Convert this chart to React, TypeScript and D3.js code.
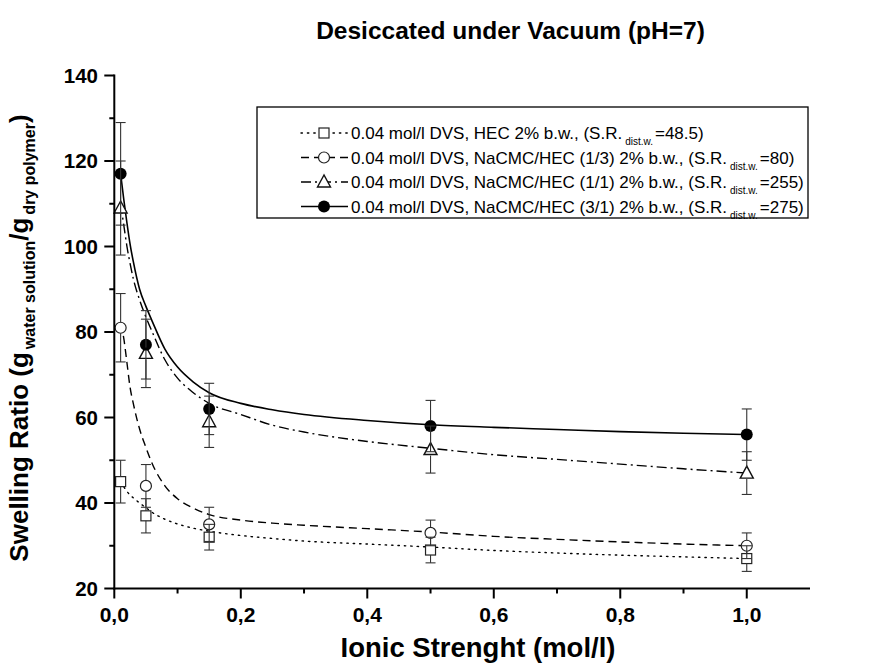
import React from "react";
import * as d3 from "d3";

// Measured swelling ratios at each ionic strength (mol/l)
const ionic = [0.01, 0.05, 0.15, 0.5, 1.0];

const hecVals = [45, 37, 32, 29, 27];
const hecErr = [5, 4, 3, 3, 3];
const cmc13Vals = [81, 44, 35, 33, 30];
const cmc13Err = [8, 5, 4, 3, 3];
const cmc11Vals = [109, 75, 59, 52.5, 47];
const cmc11Err = [11, 8, 6, 5.5, 5];
const cmc31Vals = [117, 77, 62, 58, 56];
const cmc31Err = [12, 8, 6, 6, 6];

// Fitted curves sampled on a common ionic-strength grid
const fitX = [0.01, 0.015, 0.02, 0.025, 0.03, 0.04, 0.05, 0.06, 0.08, 0.1, 0.125, 0.15, 0.2, 0.25, 0.3, 0.4, 0.5, 0.6, 0.7, 0.8, 0.9, 1.0];
const hecFit = [45, 43.8, 42.7, 41.9, 41.2, 40, 38.9, 37.8, 36.2, 35.1, 34.1, 33.4, 32.4, 31.7, 31.1, 30.4, 29.7, 28.9, 28.3, 27.8, 27.4, 27.0];
const cmc13Fit = [82, 78.5, 72.8, 67.0, 63.3, 57.3, 53, 49.2, 44, 41, 38.8, 37.3, 36, 35.3, 34.8, 34, 33.2, 32.2, 31.5, 30.9, 30.4, 30];
const cmc11Fit = [110, 105, 100, 96, 92.5, 87.5, 83.5, 80, 73.5, 69.2, 65.8, 63.3, 60.7, 58.2, 56.6, 54.4, 52.8, 51.3, 50.2, 49.1, 48, 47];
const cmc31Fit = [117, 111, 105.5, 100.5, 96.5, 90, 86, 82.5, 76, 71.8, 68.3, 65.8, 63.3, 61.8, 60.7, 59.3, 58.3, 57.7, 57.2, 56.7, 56.3, 56];

const yMajor = [20, 40, 60, 80, 100, 120, 140];
const yMinor = [30, 50, 70, 90, 110, 130];
const xMajor = [0, 0.2, 0.4, 0.6, 0.8, 1.0];
const xMinor = [0.1, 0.3, 0.5, 0.7, 0.9];

type Marker = "square" | "circle" | "triangle" | "dot";

const series: {
  vals: number[];
  err: number[];
  fit: number[];
  marker: Marker;
  dash: string;
  width: number;
  label: string;
  sr: string;
}[] = [
  { vals: hecVals, err: hecErr, fit: hecFit, marker: "square", dash: "1.4 5", width: 1.4, label: "0.04 mol/l DVS, HEC 2% b.w., (S.R.", sr: "=48.5)" },
  { vals: cmc13Vals, err: cmc13Err, fit: cmc13Fit, marker: "circle", dash: "8 5", width: 1.4, label: "0.04 mol/l DVS, NaCMC/HEC (1/3) 2% b.w., (S.R.", sr: "=80)" },
  { vals: cmc11Vals, err: cmc11Err, fit: cmc11Fit, marker: "triangle", dash: "10 4 2 4", width: 1.4, label: "0.04 mol/l DVS, NaCMC/HEC (1/1) 2% b.w., (S.R.", sr: "=255)" },
  { vals: cmc31Vals, err: cmc31Err, fit: cmc31Fit, marker: "dot", dash: "none", width: 1.6, label: "0.04 mol/l DVS, NaCMC/HEC (3/1) 2% b.w., (S.R.", sr: "=275)" },
];

const FONT = "'Liberation Sans', Arial, Helvetica, sans-serif";

const x = d3.scaleLinear().domain([0, 1.1]).range([114.3, 810]);
const y = d3.scaleLinear().domain([20, 140]).range([588.5, 75.5]);

const commaFmt = d3.formatLocale({ decimal: ",", thousands: ".", grouping: [3], currency: ["", ""] }).format(".1f");

function markerHalf(m: Marker) {
  return m === "square" ? 5 : m === "triangle" ? 6 : 5.5;
}

function MarkerShape({ m, cx, cy }: { m: Marker; cx: number; cy: number }) {
  if (m === "square") {
    return <rect x={cx - 5} y={cy - 5} width={10} height={10} fill="#fff" stroke="#222" strokeWidth={1.2} />;
  }
  if (m === "circle") {
    return <circle cx={cx} cy={cy} r={5.5} fill="#fff" stroke="#222" strokeWidth={1.2} />;
  }
  if (m === "triangle") {
    const p = `${cx},${cy - 7} ${cx - 6.5},${cy + 5} ${cx + 6.5},${cy + 5}`;
    return <polygon points={p} fill="#fff" stroke="#111" strokeWidth={1.4} />;
  }
  return <circle cx={cx} cy={cy} r={6} fill="#000" />;
}

export default function App() {
  const line = d3
    .line<number>()
    .x((_, i) => x(fitX[i]))
    .y((d) => y(d))
    .curve(d3.curveMonotoneX);

  const legendRows = [133, 157.5, 182, 206.5];

  return (
    <svg
      width={871}
      height={672}
      style={{ position: "absolute", left: 0, top: 0, background: "#fff" }}
      fontFamily={FONT}
    >
      <rect x={0} y={0} width={871} height={672} fill="#fff" />

      {/* title */}
      <text x={510.5} y={39} textAnchor="middle" fontSize={24.5} fontWeight="bold">
        Desiccated under Vacuum (pH=7)
      </text>

      {/* fitted curves */}
      {series.map((s, i) => (
        <path
          key={`fit${i}`}
          d={line(s.fit) || ""}
          fill="none"
          stroke="#000"
          strokeWidth={s.width}
          strokeDasharray={s.dash}
          strokeLinecap={s.marker === "square" ? "round" : "butt"}
        />
      ))}

      {/* markers */}
      {series.map((s, i) =>
        s.vals.map((v, j) => <MarkerShape key={`m${i}-${j}`} m={s.marker} cx={x(ionic[j])} cy={y(v)} />)
      )}

      {/* error bars */}
      {series.map((s, i) =>
        s.vals.map((v, j) => {
          const cx = x(ionic[j]);
          const cy = y(v);
          const top = y(v + s.err[j]);
          const bot = y(v - s.err[j]);
          const h = markerHalf(s.marker);
          return (
            <g key={`e${i}-${j}`} stroke="#333" strokeWidth={1.1}>
              <line x1={cx} x2={cx} y1={top} y2={cy - h} />
              <line x1={cx} x2={cx} y1={cy + h} y2={bot} />
              <line x1={cx - 5} x2={cx + 5} y1={top} y2={top} />
              <line x1={cx - 5} x2={cx + 5} y1={bot} y2={bot} />
            </g>
          );
        })
      )}

      {/* y axis */}
      <g stroke="#000" strokeWidth={2}>
        <line x1={x(0)} x2={x(0)} y1={y(140) - 1} y2={y(20) + 1} />
        {yMajor.map((t) => (
          <line key={`ym${t}`} x1={x(0) - 10} x2={x(0)} y1={y(t)} y2={y(t)} />
        ))}
        {yMinor.map((t) => (
          <line key={`yn${t}`} x1={x(0) - 5} x2={x(0)} y1={y(t)} y2={y(t)} />
        ))}
      </g>
      {yMajor.map((t) => (
        <text key={`yl${t}`} x={98} y={y(t)} dy="0.36em" textAnchor="end" fontSize={20.5} fontWeight="bold">
          {d3.format("d")(t)}
        </text>
      ))}

      {/* x axis */}
      <g stroke="#000" strokeWidth={2}>
        <line x1={x(0) - 1} x2={x(1.1)} y1={y(20)} y2={y(20)} />
        {xMajor.map((t) => (
          <line key={`xm${t}`} x1={x(t)} x2={x(t)} y1={y(20)} y2={y(20) + 10} />
        ))}
        {xMinor.map((t) => (
          <line key={`xn${t}`} x1={x(t)} x2={x(t)} y1={y(20)} y2={y(20) + 5} />
        ))}
      </g>
      {xMajor.map((t) => (
        <text key={`xl${t}`} x={x(t)} y={622} textAnchor="middle" fontSize={21} fontWeight="bold">
          {commaFmt(t)}
        </text>
      ))}

      {/* axis titles */}
      <text x={478} y={657} textAnchor="middle" fontSize={27.5} fontWeight="bold">
        Ionic Strenght (mol/l)
      </text>
      <text transform="translate(28,338) rotate(-90)" textAnchor="middle" fontSize={26} fontWeight="bold">
        <tspan>Swelling Ratio (g</tspan>
        <tspan fontSize={16} dy={7} dx={3}>water solution</tspan>
        <tspan dy={-7}>/g</tspan>
        <tspan fontSize={16} dy={7} dx={3}>dry polymer</tspan>
        <tspan dy={-7}>)</tspan>
      </text>

      {/* legend */}
      <rect x={257} y={107} width={551} height={111} fill="#fff" stroke="#000" strokeWidth={1.3} />
      {series.map((s, i) => {
        const cy = legendRows[i];
        return (
          <g key={`lg${i}`}>
            <line
              x1={301}
              x2={348}
              y1={cy}
              y2={cy}
              stroke="#000"
              strokeWidth={s.width}
              strokeDasharray={s.dash}
              strokeLinecap={s.marker === "square" ? "round" : "butt"}
            />
            <MarkerShape m={s.marker} cx={324} cy={cy} />
            <text x={351} y={cy + 6} fontSize={17}>
              <tspan>{s.label}</tspan>
              <tspan fontSize={10} dy={6} dx={3}>dist.w.</tspan>
              <tspan dy={-6} dx={2}>{s.sr}</tspan>
            </text>
          </g>
        );
      })}
    </svg>
  );
}
